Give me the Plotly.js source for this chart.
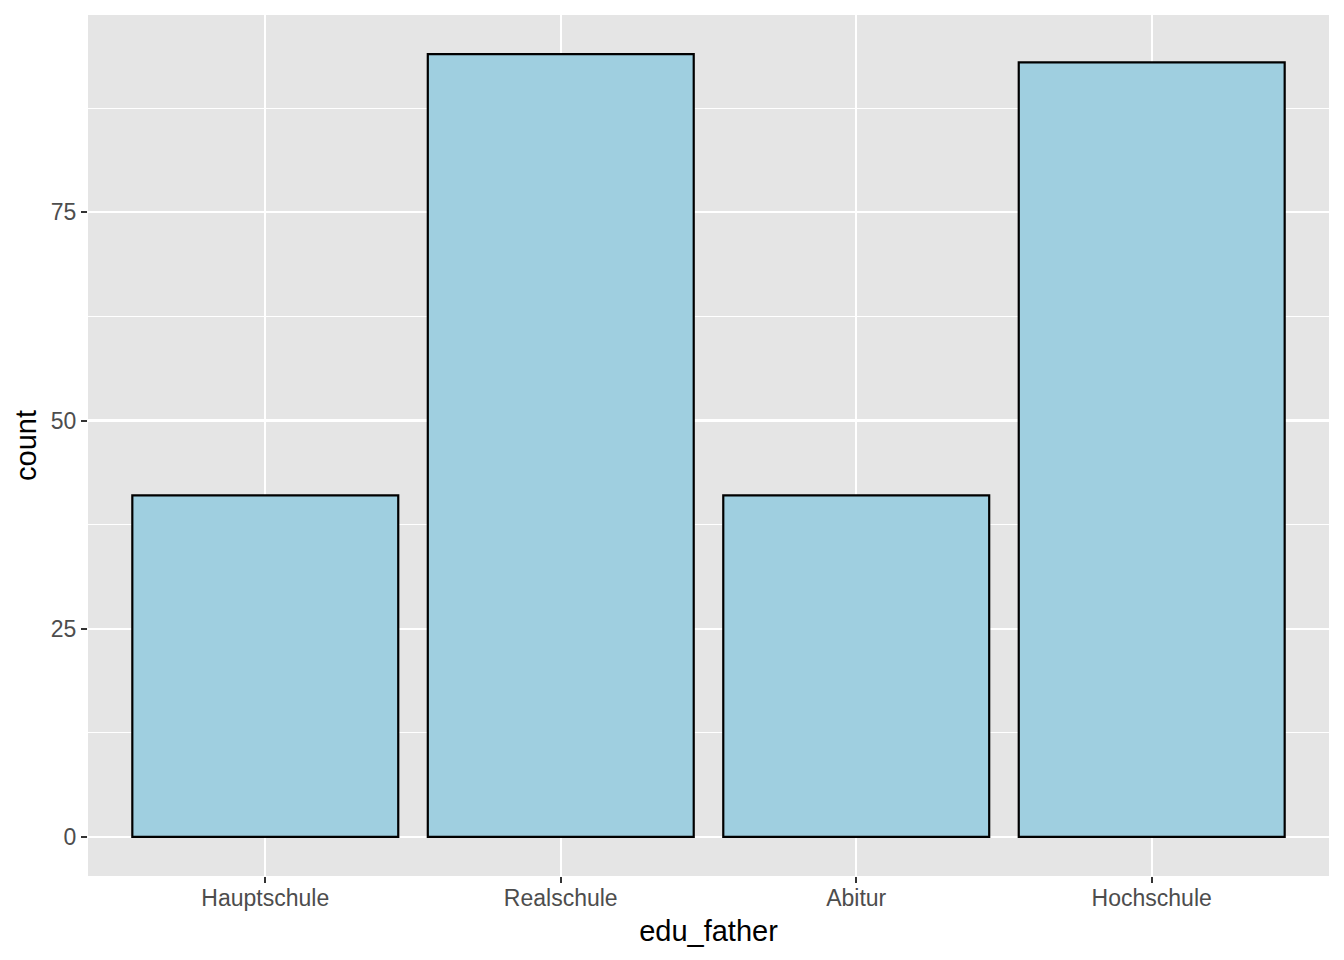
<!DOCTYPE html>
<html>
<head>
<meta charset="utf-8">
<script src="https://cdn.plot.ly/plotly-3.0.1.min.js"></script>
<style>html,body{margin:0;padding:0;background:#fff;}#chart{width:1344px;height:960px;}</style>
</head>
<body>
<div id="chart"></div>
<script>
const categories = ["Hauptschule", "Realschule", "Abitur", "Hochschule"];
const counts = [41, 94, 41, 93];
const yTickVals = [0, 25, 50, 75];
const yTickText = ["0", "25", "50", "75"];

const trace = {
  type: "bar",
  x: categories,
  y: counts,
  width: 0.9,
  marker: {color: "#9fcfe0", line: {color: "#000000", width: 2.2}},
  hoverinfo: "x+y"
};

const fontFam = "Liberation Sans, Arial, Helvetica, sans-serif";

const layout = {
  width: 1344, height: 960,
  margin: {l: 88, r: 15, t: 15, b: 84, pad: 0},
  paper_bgcolor: "#ffffff",
  plot_bgcolor: "#e5e5e5",
  showlegend: false,
  bargap: 0.1,
  font: {family: fontFam, color: "#4d4d4d"},
  xaxis: {
    type: "category",
    range: [-0.6, 3.6],
    showgrid: true, gridcolor: "#ffffff", gridwidth: 2.2,
    zeroline: false, showline: false,
    ticks: "outside", ticklen: 6, tickwidth: 2, tickcolor: "#333333",
    ticklabelstandoff: -5,
    tickfont: {size: 23, color: "#4d4d4d", family: fontFam},
    title: {text: "edu_father", font: {size: 29, color: "#000000", family: fontFam}, standoff: 11},
    automargin: false,
    fixedrange: true
  },
  yaxis: {
    range: [-4.7, 98.7],
    tickvals: yTickVals, ticktext: yTickText,
    showgrid: true, gridcolor: "#ffffff", gridwidth: 2.2,
    minor: {dtick: 12.5, tick0: 0, showgrid: true, gridcolor: "#ffffff", gridwidth: 1.1, ticks: ""},
    zeroline: false, showline: false,
    ticks: "outside", ticklen: 6, tickwidth: 2, tickcolor: "#333333",
    tickfont: {size: 23, color: "#4d4d4d", family: fontFam},
    title: {text: "count", font: {size: 29, color: "#000000", family: fontFam}, standoff: 5},
    automargin: false,
    fixedrange: true
  }
};

Plotly.newPlot("chart", [trace], layout, {displayModeBar: false, staticPlot: true});
</script>
</body>
</html>
